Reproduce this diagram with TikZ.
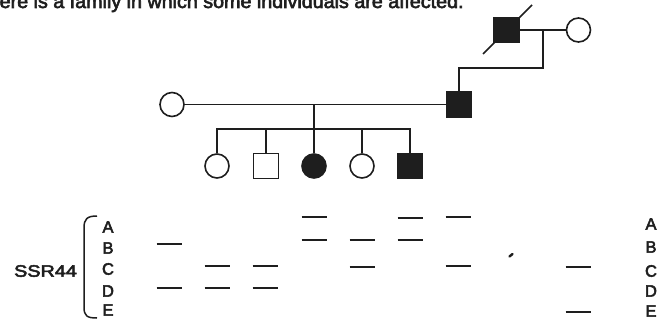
\documentclass[tikz,border=0pt]{standalone}
\usepackage{fontspec}
\setmainfont{Liberation Sans}[BoldFont=Liberation Sans, BoldFeatures={FakeBold=3}]
\definecolor{ink}{HTML}{1E1E1E}
\begin{document}
\begin{tikzpicture}[x=1pt,y=-1pt,
  every path/.style={ink},
  person/.style={draw=ink, line width=1.6pt, inner sep=0pt},
  female/.style={person, circle, minimum size=24pt},
  male/.style={person, rectangle, minimum size=25pt},
  affected/.style={fill=ink},
  link/.style={draw=ink, line width=1.5pt},
  band/.style={draw=ink, line width=2.2pt},
  lbl/.style={inner sep=0pt, text=ink, font=\fontsize{16.5}{18}\selectfont\bfseries}
]
\useasboundingbox (0,0) rectangle (670,329);

% heading, partly cut by the page edge
\node[anchor=base west, inner sep=0pt, text=ink,
      font=\fontsize{19.7}{22}\selectfont\bfseries] (title) at (-0.5,8)
  {ere is a family in which some individuals are affected:};

% generation I
\node[male, affected] (gf) at (506.5,30) {};
\node[female] (gm) at (578.5,30) {};
\draw[link] (gf) -- (gm);
\draw[link] ([shift={(-23.5,24)}]gf.center) -- ([shift={(25.5,-25)}]gf.center);

% generation II
\node[female] (mom) at (172,104.5) {};
\node[male, affected] (dad) at (459,104.5) {};
\draw[link] (mom) -- (dad);
\coordinate (gdesc) at (543,30);
\coordinate (gsib) at (543,68);
\draw[link] (gdesc) -- (gsib) -| (dad.north);

% generation III
\node[female] (c1) at (217,166) {};
\node[male] (c2) at (266,166) {};
\node[female, affected] (c3) at (314,166) {};
\node[female] (c4) at (362,166) {};
\node[male, affected] (c5) at (410,166) {};
\coordinate (pdesc) at (314,104.5);
\coordinate (sib) at (314,129);
\draw[link] (pdesc) -- (c3.north);
\draw[link] (c1.north) -- (c1.north |- sib) -- (c5.north |- sib) -- (c5.north);
\draw[link] (c2.north) -- (c2.north |- sib);
\draw[link] (c4.north) -- (c4.north |- sib);

% marker name and allele labels
\node[lbl] (ssr) at (45.5,271) {\scalebox{1.2}[1]{SSR44}};
\draw[link] (97,216) .. controls (87,216) and (84,219) .. (84,228)
  -- (84,307) .. controls (84,316) and (87,318) .. (97,318);
\foreach \n/\y in {A/227,B/248,C/269,D/291,E/310}
  \node[lbl] (l\n) at (108,\y) {\n};
\foreach \n/\y in {A/224,B/247,C/271,D/291,E/311}
  \node[lbl] (r\n) at (651,\y) {\n};

% gel bands, one lane under each person
\foreach \x/\y in {169/244, 169/288,
                   217/266, 217/288,
                   265/266, 265/288,
                   314/217, 314/240,
                   362/240, 362/267,
                   410/218, 410/240,
                   458/217, 458/266,
                   578/267, 578/312}
  \draw[band] (\x-12.5,\y) -- (\x+12.5,\y);

% stray speck on the gel
\draw[ink, line width=2.4pt, line cap=round] (509.5,256.5) -- (512.5,254);
\end{tikzpicture}
\end{document}
